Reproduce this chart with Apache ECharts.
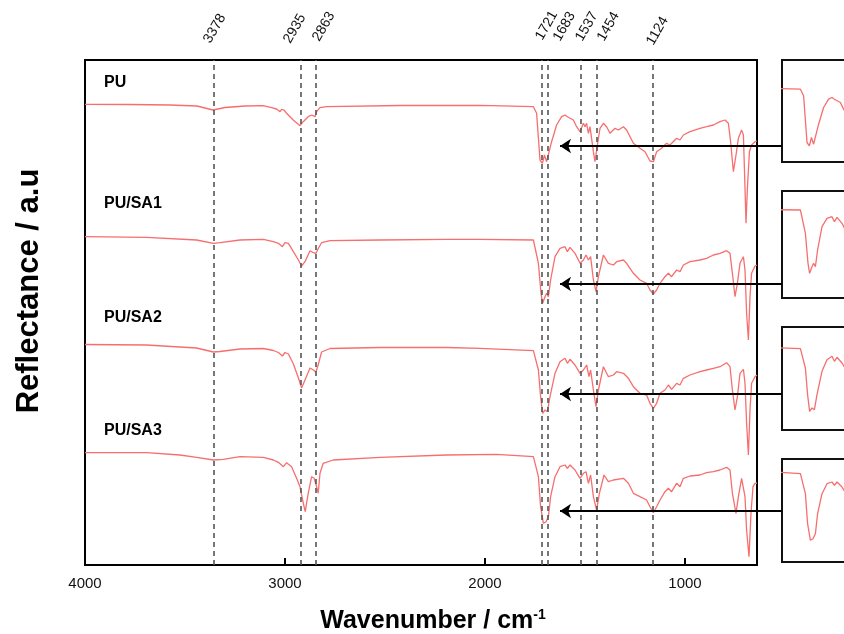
<!DOCTYPE html>
<html><head><meta charset="utf-8">
<script src="https://cdn.jsdelivr.net/npm/echarts@6/dist/echarts.min.js"></script>
<style>html,body{margin:0;padding:0;background:#fff}#c{width:844px;height:634px}</style>
</head><body><div id="c"></div>
<script>
// ---------- data ----------
const xTicks = [4000, 3000, 2000, 1000];
const seriesNames = ['PU', 'PU/SA1', 'PU/SA2', 'PU/SA3'];
const peakLabels = ['3378', '2935', '2863', '1721', '1683', '1537', '1454', '1124'];
const peakLinePos = [3355, 2920, 2845, 1716, 1687, 1520, 1442, 1160];
const arrowLevels = [419, 281, 171, 54];
const arrowSpan = [1625, 515];

const pu = [[4000,460.7],[3775,460.5],[3575,460],[3440,459],[3360,455],[3300,457.5],[3200,459],[3110,459.3],[3067,457.3],[3042,456],[3025,453.3],[3017,455.7],[3005,455],[2992,451.7],[2959,445],[2925,439.3],[2909,443.3],[2884,448.3],[2867,450],[2850,448.3],[2842,453.3],[2825,457.3],[2792,458.3],[2425,459.5],[2025,459.7],[1758,458.3],[1742,451.7],[1733,427],[1725,405],[1713,401.7],[1703,410],[1692,403.3],[1683,405],[1667,423.3],[1642,440],[1617,448.3],[1600,450],[1588,448.3],[1578,449.3],[1558,445],[1542,438.3],[1525,433.3],[1508,441.7],[1500,438.3],[1492,441.7],[1483,431.7],[1475,438.3],[1458,413.3],[1450,403.3],[1438,420],[1425,436.7],[1408,441.7],[1392,438.3],[1375,431.7],[1350,436.7],[1333,435],[1308,438.3],[1292,435],[1258,421.7],[1225,416.7],[1200,413.3],[1175,404],[1158,403.3],[1142,413.3],[1117,416.7],[1092,421.7],[1075,420],[1042,426.7],[1025,425],[1008,430],[975,433.3],[925,436.7],[892,438.3],[858,440],[825,443.3],[800,445],[783,441.7],[772,423.3],[758,393.3],[745,410],[733,426.7],[717,435],[708,430],[700,376.7],[695,341.7],[688,376.7],[678,413.3],[667,420],[650,423.3],[640,424]];

const puSa1 = [[4000,328.3],[3692,327.7],[3442,325],[3358,321.7],[3325,322.3],[3225,325],[3108,325.7],[3058,323.3],[3033,321.7],[3025,322.3],[3013,318.3],[3000,322.3],[2983,321.7],[2958,313.3],[2933,305],[2917,299],[2900,303.3],[2875,314.3],[2858,312.3],[2845,311.7],[2833,316.7],[2817,322.3],[2775,324.3],[2525,325],[2192,325.7],[2025,325.7],[1758,325],[1733,301.7],[1720,271.7],[1712,261.7],[1700,268.3],[1692,271.7],[1683,268.3],[1672,285],[1650,308.3],[1625,316.7],[1600,318.3],[1588,313.3],[1575,317.7],[1550,311.7],[1525,301.7],[1508,305],[1495,310],[1483,305],[1472,308.3],[1458,285],[1445,273.3],[1433,288.3],[1408,310],[1383,301.7],[1358,300],[1342,303.3],[1308,305],[1292,301.7],[1258,291.7],[1225,285],[1192,281.7],[1175,275],[1158,271],[1142,275],[1125,281.7],[1100,288.3],[1083,291.7],[1067,288.3],[1042,295],[1025,293.3],[1008,300],[975,303.3],[925,305],[892,306.7],[858,310],[825,311.7],[792,314.3],[775,311.7],[763,291.7],[750,268.3],[738,281.7],[725,301.7],[708,308.3],[700,295],[692,251.7],[683,225],[675,268.3],[667,291.7],[650,299],[640,300]];

const puSa2 = [[4000,220.5],[3692,220],[3442,217],[3358,213],[3325,213.5],[3225,216],[3108,216.5],[3058,214.5],[3033,212.5],[3025,213],[3013,209],[3000,212.5],[2983,211],[2958,201],[2933,187],[2917,177],[2900,185],[2875,197],[2858,195],[2845,193],[2833,201],[2817,213],[2775,216.5],[2525,217.5],[2192,217.5],[2025,216.7],[1758,214.3],[1733,195],[1722,168.3],[1712,151.7],[1700,155],[1688,153.3],[1675,168.3],[1650,191.7],[1625,203.3],[1600,206.7],[1588,201.7],[1575,205.7],[1550,200],[1525,191.7],[1508,195],[1492,200],[1480,188.3],[1472,195],[1458,175],[1445,158.3],[1433,175],[1408,198.3],[1383,188.3],[1358,190],[1342,193.3],[1308,191.7],[1283,186.7],[1258,178.3],[1225,171.7],[1192,170],[1175,161.7],[1158,156.7],[1142,161.7],[1125,171.7],[1100,175],[1083,180],[1067,175.7],[1042,181.7],[1025,180],[1008,186.7],[975,190],[925,193.3],[892,195],[858,196.7],[825,198.3],[792,202.3],[775,198.3],[763,175],[750,155],[738,168.3],[725,191.7],[708,195.7],[700,181.7],[692,141.7],[683,110],[675,155],[667,181.7],[650,188.3],[640,190]];

const puSa3 = [[4000,112.3],[3692,112.3],[3525,110],[3442,107.7],[3358,105],[3308,105.7],[3225,108.3],[3108,107.7],[3058,105],[3033,102.7],[3025,103.3],[3008,98.3],[2992,102.3],[2967,98.3],[2942,86.7],[2925,78.3],[2912,65],[2899,53.3],[2884,71.7],[2867,88.3],[2854,86.7],[2842,78.3],[2834,71.7],[2825,91.7],[2809,101.7],[2759,105],[2525,107.7],[2192,110],[1942,110.7],[1758,108.3],[1733,88.3],[1722,58.3],[1708,41.7],[1695,43.3],[1683,48.3],[1672,68.3],[1650,88.3],[1625,98.3],[1600,100],[1588,96.7],[1575,100],[1550,95],[1525,86.7],[1508,91.7],[1495,93.3],[1483,81.7],[1472,90],[1458,68.3],[1442,55],[1428,71.7],[1405,90],[1383,83.3],[1358,85],[1308,86.7],[1283,81.7],[1258,71.7],[1225,68.3],[1192,65],[1175,58.3],[1158,52.3],[1142,58.3],[1125,65],[1100,73.3],[1083,76.7],[1067,73.3],[1042,81.7],[1025,78.3],[1008,86.7],[975,89],[925,90],[892,92.3],[858,93.3],[825,95],[792,97.7],[775,95],[763,71.7],[745,51.7],[733,68.3],[717,86.7],[708,88.3],[700,68.3],[692,35],[680,8.3],[670,51.7],[660,78.3],[650,81.7],[640,82]];

const spectra = [pu, puSa1, puSa2, puSa3];

// ---------- layout ----------
const LINE = '#f76e6e';
const FONT = '"Liberation Sans", Arial, sans-serif';
const insetBoxes = [
  {top: 60, height: 102, min: 385.5, max: 487.5},
  {top: 191, height: 107, min: 237, max: 344},
  {top: 327, height: 103, min: 133, max: 236},
  {top: 459, height: 103, min: 20, max: 123}
];
const nameY = [82.5, 204, 317.5, 430.5];
const labelNudge = [[-7,-18],[-14,-18],[0,-20],[-3,-21],[9,-20],[-2,-20],[4,-20],[-3,-16]];

const chart = echarts.init(document.getElementById('c'), null, {renderer: 'canvas'});

const grids = [
  {left: 85, top: 60, width: 672, height: 505, show: true, borderColor: '#000', borderWidth: 2, backgroundColor: 'rgba(0,0,0,0)', outerBoundsMode: 'none', containLabel: false},
  {left: 85, top: 60, width: 759, height: 505, show: false, outerBoundsMode: 'none', containLabel: false}
];
insetBoxes.forEach(b => grids.push({left: 782, top: b.top, width: 100, height: b.height, show: true, borderColor: '#111', borderWidth: 2, backgroundColor: '#fff', outerBoundsMode: 'none', containLabel: false}));

const xAxes = [
  {
    gridIndex: 0, type: 'value', inverse: true, min: 640, max: 4000,
    axisLine: {show: true, lineStyle: {color: '#000', width: 2}},
    axisTick: {show: true, inside: true, length: 7, lineStyle: {color: '#000', width: 2}, customValues: xTicks},
    axisLabel: {show: true, customValues: xTicks, formatter: v => String(v), color: '#111', fontSize: 15, margin: 11, fontFamily: FONT},
    splitLine: {show: false}
  },
  {gridIndex: 1, type: 'value', inverse: true, min: 205, max: 4000, show: false}
];
const yAxes = [
  {gridIndex: 0, type: 'value', min: 0, max: 505, show: false},
  {gridIndex: 1, type: 'value', min: 0, max: 505, show: false}
];
insetBoxes.forEach((b, i) => {
  xAxes.push({gridIndex: 2 + i, type: 'value', inverse: true, min: 1350, max: 1850, show: false});
  yAxes.push({gridIndex: 2 + i, type: 'value', min: b.min, max: b.max, show: false});
});

const series = [];
spectra.forEach((d, i) => {
  const s = {
    type: 'line', name: seriesNames[i], xAxisIndex: 0, yAxisIndex: 0, data: d,
    showSymbol: false, symbol: 'none', lineStyle: {color: LINE, width: 1.3}, z: 3, animation: false
  };
  if (i === 0) {
    s.markLine = {
      silent: true, symbol: ['none', 'none'], animation: false,
      lineStyle: {type: [5, 4], color: '#555', width: 1.6},
      label: {show: false},
      data: peakLinePos.map(v => ({xAxis: v}))
    };
  }
  series.push(s);
});
spectra.forEach((d, i) => {
  series.push({
    type: 'line', xAxisIndex: 2 + i, yAxisIndex: 2 + i, data: d,
    showSymbol: false, symbol: 'none', lineStyle: {color: LINE, width: 1.3}, animation: false
  });
});
series.push({
  type: 'line', xAxisIndex: 1, yAxisIndex: 1, data: [[arrowSpan[1], arrowLevels[0]]],
  showSymbol: false, symbol: 'none', lineStyle: {opacity: 0}, z: 10, animation: false, clip: false,
  markLine: {
    silent: true, animation: false, symbol: ['arrow', 'none'], symbolSize: 11,
    lineStyle: {type: 'solid', color: '#000', width: 2},
    itemStyle: {color: '#000'},
    label: {show: false},
    data: arrowLevels.map(y => [{coord: [arrowSpan[0], y]}, {coord: [arrowSpan[1], y]}])
  }
});

chart.setOption({
  backgroundColor: '#fff',
  animation: false,
  grid: grids, xAxis: xAxes, yAxis: yAxes, series: series
});

// text elements placed with the library's own scale
const graphics = [];
seriesNames.forEach((n, i) => {
  graphics.push({type: 'text', x: 104, y: nameY[i], z: 20,
    style: {text: n, fontSize: 16, fontWeight: 'bold', fontFamily: FONT, fill: '#000', verticalAlign: 'middle', align: 'left'}});
});
peakLinePos.forEach((w, i) => {
  const p = chart.convertToPixel({gridIndex: 0}, [w, 505]);
  graphics.push({type: 'text', x: p[0] + labelNudge[i][0], y: p[1] + labelNudge[i][1], rotation: Math.PI / 3, z: 20,
    style: {text: peakLabels[i], fontSize: 14, fontFamily: FONT, fill: '#111', align: 'left', verticalAlign: 'middle'}});
});
graphics.push({type: 'text', x: 29, y: 291, rotation: Math.PI / 2, z: 20,
  style: {text: 'Reflectance / a.u', fontSize: 31, fontWeight: 'bold', fontFamily: FONT, fill: '#000', align: 'center', verticalAlign: 'middle'}});
graphics.push({type: 'text', x: 433, y: 621, z: 20,
  style: {text: '{a|Wavenumber / cm}{b|-1}', align: 'center', verticalAlign: 'middle',
    rich: {
      a: {fontSize: 25, fontWeight: 'bold', fontFamily: FONT, fill: '#000', color: '#000'},
      b: {fontSize: 14, fontWeight: 'bold', fontFamily: FONT, fill: '#000', color: '#000', verticalAlign: 'top', padding: [0, 0, 10, 0]}
    }}});
chart.setOption({graphic: graphics});
</script>
</body></html>
